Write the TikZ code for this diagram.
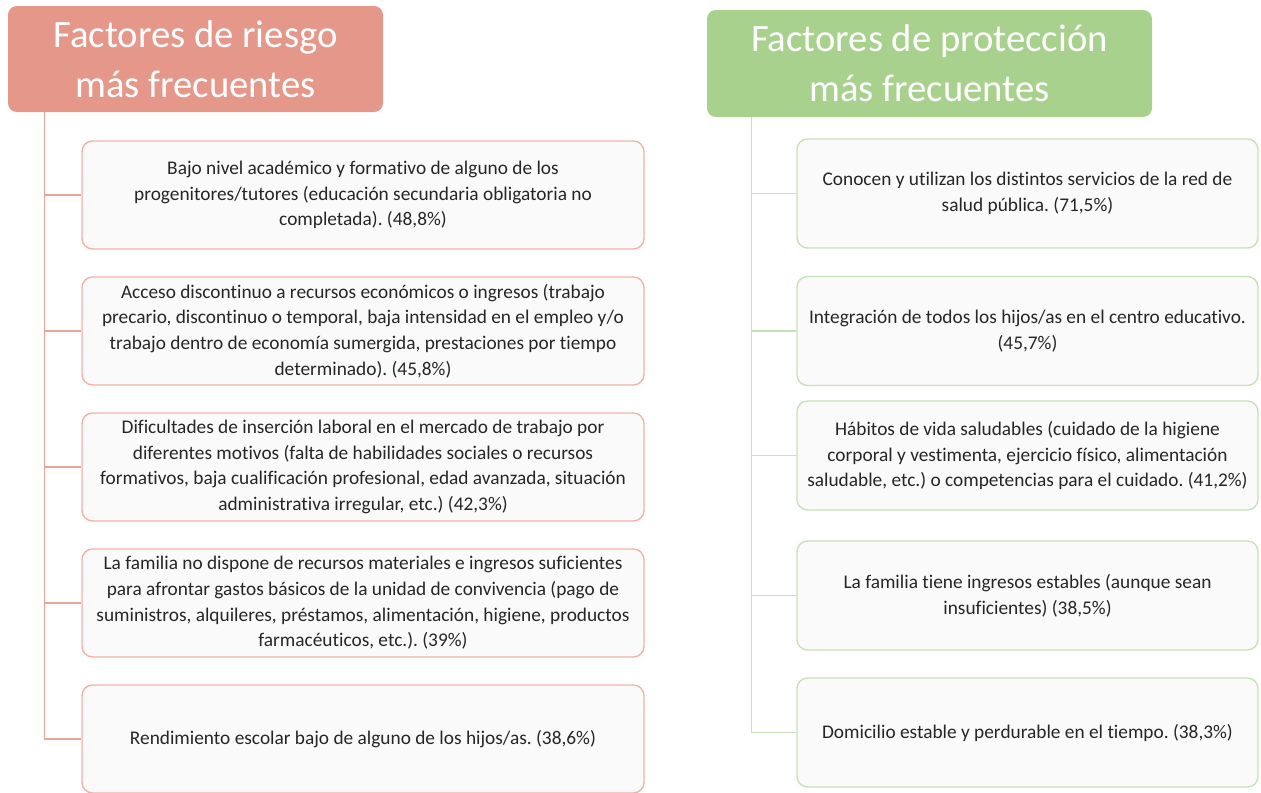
\documentclass[tikz,border=0pt]{standalone}
\usepackage{fontspec}
\setmainfont{Carlito}[Ligatures=NoCommon]
\usepackage{tikz}
\usetikzlibrary{positioning}
\usepackage{xcolor}
\definecolor{rkfill}{RGB}{229,152,137}
\definecolor{rkline}{RGB}{236,166,153}
\definecolor{rkborder}{RGB}{242,178,166}
\definecolor{prfill}{RGB}{169,209,142}
\definecolor{prline}{RGB}{199,225,182}
\definecolor{prborder}{RGB}{199,225,182}
\definecolor{boxfill}{RGB}{250,250,250}
\tikzstyle{title} = [rectangle, rounded corners=5pt, text=white, align=center, font=\fontsize{22}{28.5}\selectfont, inner sep=0pt]
\tikzstyle{factor} = [rectangle, rounded corners=6pt, fill=boxfill, thick, align=center, text=black!85, font=\fontsize{11}{14.6}\selectfont, inner sep=0pt]

\begin{document}
\frenchspacing
\begin{tikzpicture}
\useasboundingbox (0,0) rectangle (25.22,-15.84);

% Risk factors
\node (ttlrisk) [title, fill=rkfill, minimum width=7.5cm, minimum height=2.12cm] at (3.91,-1.18) {Factores de riesgo\\más frecuentes};
\node (r1) [factor, draw=rkborder, minimum width=11.24cm, minimum height=2.16cm] at (7.26,-3.9) {Bajo nivel académico y formativo de alguno de los\\progenitores/tutores (educación secundaria obligatoria no\\completada). (48,8\%)};
\node (r2) [factor, draw=rkborder, minimum width=11.24cm, minimum height=2.16cm] at (7.26,-6.62) {Acceso discontinuo a recursos económicos o ingresos (trabajo\\precario, discontinuo o temporal, baja intensidad en el empleo y/o\\trabajo dentro de economía sumergida, prestaciones por tiempo\\determinado). (45,8\%)};
\node (r3) [factor, draw=rkborder, minimum width=11.24cm, minimum height=2.16cm] at (7.26,-9.34) {Dificultades de inserción laboral en el mercado de trabajo por\\diferentes motivos (falta de habilidades sociales o recursos\\formativos, baja cualificación profesional, edad avanzada, situación\\administrativa irregular, etc.) (42,3\%)};
\node (r4) [factor, draw=rkborder, minimum width=11.24cm, minimum height=2.16cm] at (7.26,-12.06) {La familia no dispone de recursos materiales e ingresos suficientes\\para afrontar gastos básicos de la unidad de convivencia (pago de\\suministros, alquileres, préstamos, alimentación, higiene, productos\\farmacéuticos, etc.). (39\%)};
\node (r5) [factor, draw=rkborder, minimum width=11.24cm, minimum height=2.16cm] at (7.26,-14.78) {Rendimiento escolar bajo de alguno de los hijos/as. (38,6\%)};

\coordinate (rtop) at ([xshift=0.74cm]ttlrisk.south west);
\draw[thick, rkline] (rtop) |- (r5.west);
\foreach \i in {1,...,4}
  \draw[thick, rkline] (rtop |- r\i.west) -- (r\i.west);

% Protection factors
\node (ttlprot) [title, fill=prfill, minimum width=8.9cm, minimum height=2.14cm] at (18.59,-1.27) {Factores de protección\\más frecuentes};
\node (p1) [factor, draw=prborder, minimum width=9.22cm, minimum height=2.18cm] at (20.55,-3.87) {Conocen y utilizan los distintos servicios de la red de\\salud pública. (71,5\%)};
\node (p2) [factor, draw=prborder, minimum width=9.22cm, minimum height=2.18cm] at (20.55,-6.62) {Integración de todos los hijos/as en el centro educativo.\\(45,7\%)};
\node (p3) [factor, draw=prborder, minimum width=9.22cm, minimum height=2.18cm] at (20.55,-9.11) {Hábitos de vida saludables (cuidado de la higiene\\corporal y vestimenta, ejercicio físico, alimentación\\saludable, etc.) o competencias para el cuidado. (41,2\%)};
\node (p4) [factor, draw=prborder, minimum width=9.22cm, minimum height=2.18cm] at (20.55,-11.91) {La familia tiene ingresos estables (aunque sean\\insuficientes) (38,5\%)};
\node (p5) [factor, draw=prborder, minimum width=9.22cm, minimum height=2.18cm] at (20.55,-14.65) {Domicilio estable y perdurable en el tiempo. (38,3\%)};

\coordinate (ptop) at ([xshift=0.9cm]ttlprot.south west);
\draw[thick, prline] (ptop) |- (p5.west);
\foreach \i in {1,...,4}
  \draw[thick, prline] (ptop |- p\i.west) -- (p\i.west);
\end{tikzpicture}
\end{document}
